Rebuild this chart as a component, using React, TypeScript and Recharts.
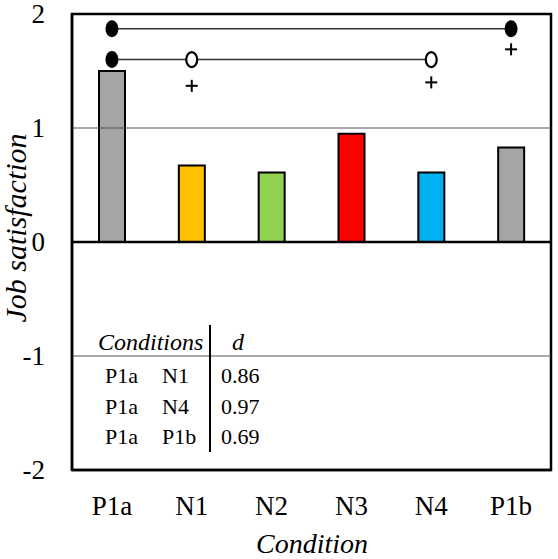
import React from "react";
import { ComposedChart, Bar, Cell, Line, XAxis, YAxis, ReferenceLine, ReferenceArea } from "recharts";

// Bar values per condition.
const CONDITIONS = ["P1a", "N1", "N2", "N3", "N4", "P1b"];
const SATISFACTION = [1.5, 0.67, 0.61, 0.95, 0.61, 0.83];
const BAR_COLORS = ["#A5A5A5", "#FFC000", "#92D050", "#FF0000", "#00B0F0", "#A5A5A5"];

// Significance brackets drawn above the bars.
const TOP_BRACKET = [1.87, null, null, null, null, 1.87];
const TOP_MARKS = ["filled", null, null, null, null, "filled"];
const MID_BRACKET = [1.6, 1.6, null, null, 1.6, null];
const MID_MARKS = ["filled", "open", null, null, "open", null];
const PLUS_MARKS = [null, 1.37, null, null, 1.4, 1.69];

const Y_TICKS = [-2, -1, 0, 1, 2];

// Effect size table.
const TABLE_HEAD = ["Conditions", "d"];
const TABLE_ROWS = [
  ["P1a", "N1", "0.86"],
  ["P1a", "N4", "0.97"],
  ["P1a", "P1b", "0.69"],
];

const FONT = "'Liberation Serif', 'Times New Roman', serif";
const W = 558;
const H = 559;

const data = CONDITIONS.map((c, i) => ({
  cond: c,
  value: SATISFACTION[i],
  top: TOP_BRACKET[i],
  mid: MID_BRACKET[i],
  plus: PLUS_MARKS[i],
}));

function markerDot(kinds: (string | null)[]) {
  return (p: any) => {
    const kind = kinds[p.index];
    if (!kind || p.cy == null || p.cx == null) return <g key={`m${p.index}`} />;
    return (
      <ellipse
        key={`m${p.index}`}
        cx={p.cx}
        cy={p.cy}
        rx={kind === "filled" ? 6.5 : 5.5}
        ry={kind === "filled" ? 8.5 : 7.5}
        fill={kind === "filled" ? "#000" : "#fff"}
        stroke="#000"
        strokeWidth={kind === "filled" ? 0 : 2.2}
      />
    );
  };
}

const plusDot = (p: any) => {
  if (p.cy == null || p.value == null) return <g key={`p${p.index}`} />;
  return (
    <g key={`p${p.index}`} stroke="#000" strokeWidth={2}>
      <line x1={p.cx - 6} x2={p.cx + 6} y1={p.cy} y2={p.cy} />
      <line x1={p.cx} x2={p.cx} y1={p.cy - 6} y2={p.cy + 6} />
    </g>
  );
};

const XTick = (p: any) => (
  <text x={p.x} y={p.y + 45} textAnchor="middle" fontSize={27} fill="#000" fontFamily={FONT}>
    {p.payload.value}
  </text>
);

const YTick = (p: any) => (
  <text x={p.x - 27} y={p.y + 9} textAnchor="end" fontSize={27} fill="#000" fontFamily={FONT}>
    {p.payload.value}
  </text>
);

const frame = { stroke: "#000", strokeWidth: 2.5 };

export default function App() {
  return (
    <div style={{ position: "absolute", left: 0, top: 0, width: W, height: H, background: "#fff", fontFamily: FONT }}>
      <ComposedChart width={W} height={H} data={data} margin={{ top: 14, right: 7, bottom: 29, left: 12 }}>
        <XAxis dataKey="cond" height={60} axisLine={frame} tickLine={false} tickSize={0} tickMargin={0} tick={XTick} />
        <YAxis
          domain={[-2, 2]}
          ticks={Y_TICKS}
          width={60}
          axisLine={frame}
          tickLine={false}
          tickSize={0}
          tickMargin={0}
          tick={YTick}
        />
        <ReferenceLine y={1} stroke="#555" strokeWidth={1.2} />
        <ReferenceLine y={-1} stroke="#555" strokeWidth={1.2} />
        <Bar dataKey="value" barSize={26} stroke="#000" strokeWidth={2} isAnimationActive={false}>
          {data.map((d, i) => (
            <Cell key={d.cond} fill={BAR_COLORS[i]} />
          ))}
        </Bar>
        <ReferenceLine y={0} stroke="#000" strokeWidth={2.5} />
        <Line dataKey="top" connectNulls stroke="#333" strokeWidth={1.5} dot={markerDot(TOP_MARKS)} isAnimationActive={false} />
        <Line dataKey="mid" connectNulls stroke="#333" strokeWidth={1.5} dot={markerDot(MID_MARKS)} isAnimationActive={false} />
        <Line dataKey="plus" stroke="none" dot={plusDot} activeDot={false} isAnimationActive={false} />
        <ReferenceArea y1={-2} y2={2} fill="none" stroke="#000" strokeWidth={2.5} />
      </ComposedChart>

      <svg width={W} height={H} style={{ position: "absolute", left: 0, top: 0, pointerEvents: "none", fontFamily: FONT }}>
        {/* axis titles */}
        <text x={26} y={228} fontSize={30} fontStyle="italic" textAnchor="middle" transform="rotate(-90 26 228)">
          Job satisfaction
        </text>
        <text x={312} y={553} fontSize={28} fontStyle="italic" textAnchor="middle">
          Condition
        </text>

        {/* effect size table */}
        <text x={98} y={350} fontSize={24} fontStyle="italic">{TABLE_HEAD[0]}</text>
        <text x={232} y={350} fontSize={24} fontStyle="italic">{TABLE_HEAD[1]}</text>
        <line x1={210} x2={210} y1={325} y2={452} stroke="#000" strokeWidth={2} />
        {TABLE_ROWS.map((r, i) => (
          <g key={i} fontSize={22}>
            <text x={105} y={383 + i * 30.5}>{r[0]}</text>
            <text x={162} y={383 + i * 30.5}>{r[1]}</text>
            <text x={221} y={383 + i * 30.5}>{r[2]}</text>
          </g>
        ))}
      </svg>
    </div>
  );
}
